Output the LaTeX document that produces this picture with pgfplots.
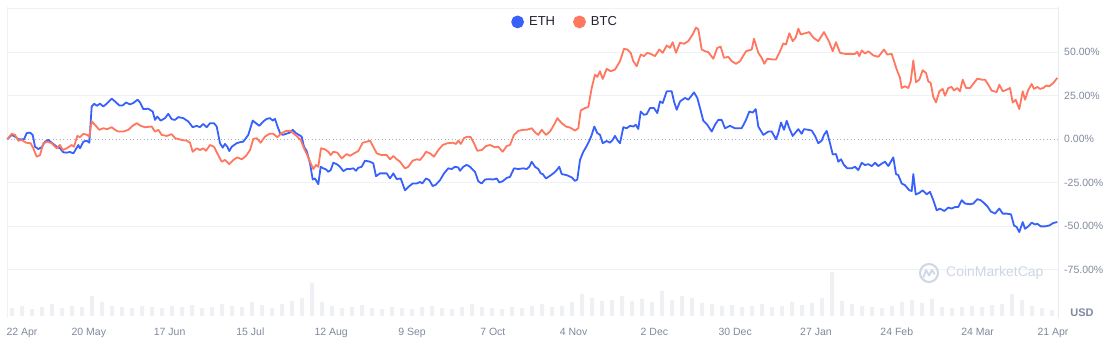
\documentclass[border=0pt]{standalone}
\usepackage{pgfplots}
\pgfplotsset{compat=1.18}
\usepackage{fontspec}
\setmainfont{Liberation Sans}
\definecolor{ethblue}{HTML}{3861FB}
\definecolor{btcred}{HTML}{FF775F}
\definecolor{gridc}{HTML}{EFF2F5}
\definecolor{zeroc}{HTML}{A6B0C3}
\definecolor{tickc}{HTML}{808A9D}
\definecolor{volc}{HTML}{EEF0F4}
\definecolor{wmark}{HTML}{CFD6E4}
\definecolor{legc}{HTML}{222531}
\begin{document}
\begin{tikzpicture}[x=1pt,y=1pt]
\fill[white] (0,0) rectangle (1108,351);
\path[use as bounding box] (0,0) rectangle (1108,351);
% volume bars
\begin{axis}[at={(7pt,33pt)}, anchor=south west, scale only axis,
  width=1051pt, height=311pt, xmin=7, xmax=1058, ymin=-2, ymax=309, hide axis]
\addplot[ybar, bar width=4pt, fill=volc, draw=none] coordinates {
(12,8) (22,10) (32,7) (42,9) (52,12) (62,8) (72,10) (82,9) (92,20) (102,14)
(112,10) (122,9) (132,8) (142,10) (152,9) (162,8) (172,10) (182,9) (192,11) (202,8)
(212,9) (222,12) (232,10) (242,9) (252,14) (262,11) (272,8) (282,12) (292,15) (302,18)
(312,33) (322,14) (332,10) (342,8) (352,9) (362,11) (372,8) (382,7) (392,9) (402,8)
(412,7) (422,9) (432,10) (442,8) (452,7) (462,9) (472,12) (482,9) (492,8) (502,7)
(512,9) (522,8) (532,10) (542,12) (552,9) (562,10) (572,14) (582,22) (592,18) (602,15)
(612,16) (622,20) (632,15) (642,17) (652,14) (662,25) (672,16) (682,20) (692,18) (702,13)
(712,12) (722,10) (732,11) (742,9) (752,10) (762,12) (772,9) (782,10) (792,14) (802,11)
(812,13) (822,18) (832,44) (842,15) (852,12) (862,10) (872,9) (882,8) (892,10) (902,14)
(912,16) (922,13) (932,17) (942,9) (952,8) (962,9) (972,10) (982,9) (992,11) (1002,12)
(1012,22) (1022,16) (1032,10) (1042,8) (1052,6)};
\end{axis}
% main axis
\begin{axis}[at={(7pt,33pt)}, anchor=south west, scale only axis,
  width=1051pt, height=311pt, xmin=7, xmax=1058, ymin=-102.6, ymax=75.9,
  axis line style={draw=none}, tick style={draw=none},
  ytick={-75,-50,-25,25,50,75},
  yticklabels={-75.00\%,-50.00\%,-25.00\%,25.00\%,50.00\%,},
  ymajorgrids, major grid style={draw=gridc, line width=1pt},
  extra y ticks={0}, extra y tick labels={0.00\%},
  extra y tick style={grid=major, major grid style={draw=zeroc, line width=1pt, dash pattern=on 1pt off 2.5pt}},
  yticklabel pos=right,
  y tick label style={anchor=west, inner sep=0pt, xshift=6pt, font=\fontsize{10.5}{12}\selectfont, text=tickc},
  xtick={22,88.8,169.6,250.4,331.2,412,492.8,573.6,654.4,735.2,816,896.8,977.6,1053},
  xticklabels={22 Apr,20 May,17 Jun,15 Jul,12 Aug,9 Sep,7 Oct,4 Nov,2 Dec,30 Dec,27 Jan,24 Feb,24 Mar,21 Apr},
  x tick label style={anchor=north, inner sep=0pt, yshift=-10pt, font=\fontsize{10.5}{12}\selectfont, text=tickc},
  legend style={at={(rel axis cs:0.531,0.952)}, anchor=center, draw=none, fill=none,
    legend columns=2, font=\fontsize{13}{15}\selectfont, text=legc,
    /tikz/every even column/.append style={column sep=16pt}},
  legend image code/.code={\fill (5.5pt,0pt) circle (5.5pt); \path[draw=none,fill=none] (0pt,0pt) -- (15pt,0pt);},
  clip=false]
\draw[gridc, line width=1pt] (rel axis cs:0,0) -- (rel axis cs:0,1);
\draw[gridc!80!gray!60, line width=1pt] (rel axis cs:1,0) -- (rel axis cs:1,1);
\addplot[color=ethblue, line width=1.8pt, line join=round] coordinates {
(7.3,0) (11.7,2.5) (15,1.5) (18.3,0) (21.7,0) (24,0) (26.7,3.5) (30,3.8) (32.7,2.5) (35,-4.3) (38.3,-5.6) (41.7,-4.6) (45,-1.4) (48.3,-0.4) (51.7,-2) (56.7,-4.3) (60,-5.2) (63.3,-7.5) (66.7,-7.7) (70,-7.3) (73.3,-8.1) (75,-6.6) (78.3,-3.3) (80,-5.2) (83.3,-1.4) (86.7,-0.8) (89.3,-2) (91.7,18.8) (94.3,20.4) (96.7,19.2) (100,20.4) (103.3,18.8) (106.7,20.4) (111.7,23.3) (115,21.7) (119.3,19.4) (122.7,19.4) (126,21.1) (130,20) (133.3,20.8) (137.7,22.7) (140,21.1) (143.3,17.3) (148.3,17.5) (152.7,15.9) (155,11.1) (157.3,13) (160.7,10.7) (165,12.1) (168.3,14.6) (171.7,11.5) (175,11.1) (178.3,12.7) (183.3,12.1) (188.3,10.2) (192.7,6.9) (196.7,7.7) (200,6.9) (203.3,8.8) (206.7,6.9) (210,9.2) (214,9.2) (216.7,7.3) (220,-2.3) (222.7,-4.8) (225,-2.7) (227.3,-4.3) (229.3,-6.8) (231.7,-4.3) (236.7,-2.3) (240,-1.7) (243.3,-1.4) (248.3,2.5) (252.7,10.7) (256,9.2) (259.3,7.7) (263.3,10.2) (266.7,11.7) (270,12.1) (272.7,10.7) (275,11.7) (277.3,7.7) (280,3.5) (282.7,2.5) (286,3.1) (290,3.8) (292.7,5.4) (296,3.5) (300,2.1) (301.7,1.5) (304,-4.3) (306.7,-6.8) (310,-13.8) (312.7,-23.1) (315,-22.5) (318.3,-25.8) (320.7,-15.8) (323.3,-16.7) (326,-17.3) (328.3,-18.7) (330.7,-17.7) (333.3,-13.5) (336.7,-14.3) (340,-15.8) (343.3,-18.3) (346.7,-17.1) (350,-17.1) (353.3,-16.7) (356,-18.1) (358.3,-16.4) (361.7,-15.8) (365,-12.3) (370,-12.9) (373.3,-13.8) (376,-21.2) (380,-19.6) (386.7,-19.6) (390,-22.5) (393.3,-19.6) (396.7,-22.9) (400.7,-22.5) (405,-29.3) (408.3,-27.4) (412.7,-25.4) (416.7,-25.4) (420,-24.5) (422.3,-25.4) (426,-22.5) (429.3,-23.5) (432.7,-26.9) (436,-26) (440,-23.5) (444,-19.6) (448.3,-16.7) (451.7,-17.1) (455,-15.8) (458.3,-16.2) (460,-18.1) (463.3,-15.8) (466.7,-14.7) (470,-15.8) (475,-18.7) (478.3,-24.1) (481.7,-25.4) (485,-23.1) (489.3,-22.9) (493.3,-23.1) (496.7,-22.5) (499.3,-24.8) (502.7,-24.1) (506.7,-22.2) (510,-21.6) (514,-16.7) (518.3,-17.1) (523.3,-16.7) (526.7,-17.1) (529.3,-15.8) (531.7,-12.9) (535,-15.8) (538.3,-17.1) (540.7,-19.6) (542.7,-20) (546,-22.5) (550,-21) (554,-19.3) (556.7,-17.7) (559.3,-15.8) (561.7,-20) (566.7,-20.6) (571.7,-21.9) (575,-23.9) (577.3,-23.1) (580,-11.9) (583.3,-7.2) (586.7,-3.9) (590,0) (591.7,2.5) (594.3,7.3) (597.3,3.5) (600,2.5) (602.7,-2.3) (606.7,-1) (610,-2) (612.7,-0.4) (615,1.9) (617.3,-0.4) (620,-2.3) (623.3,6.9) (626.7,6.3) (630,7.7) (633.3,7.3) (635.7,8.3) (638.3,5.9) (640.7,15.9) (644,14) (646.7,14.4) (650,17.9) (654,17.9) (657.3,15) (660,21.7) (662.7,20.8) (666.7,27.5) (671.7,27.5) (674,21.7) (676.7,16.9) (680,21.7) (685,23.7) (688.3,22.7) (691,24.6) (694,26.9) (697.3,23.7) (700,17.9) (703.3,10.6) (707.3,8.3) (711.7,4.4) (715,8.3) (718.3,11.1) (721.7,11.1) (725,6.3) (730,7.7) (735,6.3) (741.7,6.3) (746,11.1) (749.3,15.9) (752.7,15.3) (755.7,17.3) (758.3,7.3) (763.3,2.5) (768.3,4.4) (771.7,4.4) (776,0) (778.3,3.5) (781,9.6) (784,5.4) (786.7,10.6) (789.3,6.3) (792.7,1.9) (795,3.5) (798.3,5.8) (801.7,3.1) (804,5.8) (808.3,5.4) (811.7,5) (815,1.9) (818.3,-2.3) (821.7,-0.8) (824,2.5) (826.7,4.8) (830,-2.3) (832.7,-8.7) (836,-8.5) (838.3,-12.9) (841,-11.5) (844,-14.8) (847.3,-16.7) (851.7,-16.7) (855,-15.8) (858.3,-17.7) (861.7,-13.5) (865,-14.8) (868.3,-14.3) (871.7,-15.4) (875,-13.5) (878.3,-15.4) (881.7,-14) (885,-12.9) (888.3,-15.4) (893.3,-10.4) (896,-20) (898.3,-20.6) (901.7,-25.4) (905,-26.4) (909.3,-29.3) (911.7,-29.7) (913.3,-20) (915.7,-31.7) (919.3,-30.8) (922.7,-29.3) (926.7,-31.6) (930,-30.2) (933.3,-35) (936.7,-40.8) (940,-39.8) (944.3,-41.2) (948.3,-39.2) (951.7,-39.8) (955,-38.9) (958.3,-38.9) (961.7,-35) (965,-36.9) (970,-37.3) (973.3,-36.9) (977.3,-34.4) (980.7,-35) (984,-36.6) (987.3,-38.5) (990.7,-41.4) (995,-42.7) (999.3,-39.8) (1002.7,-42.7) (1006.7,-42.7) (1011,-43.1) (1014,-49.5) (1016.7,-50.4) (1019.3,-53.3) (1022.7,-47.5) (1025,-51.4) (1028.3,-50) (1031.7,-47.9) (1035,-48.9) (1037.3,-48.5) (1040.7,-50) (1045,-50) (1049.3,-49.5) (1053.3,-48.1) (1057.3,-47.5)};
\addlegendentry{ETH}
\addplot[color=btcred, line width=1.8pt, line join=round] coordinates {
(7.3,0) (11.7,3.1) (15,2.5) (18.3,-0.8) (21.7,-0.4) (26,-2) (30.7,-2.3) (33.3,-5.2) (36.7,-10) (40,-9.1) (43.3,-2.3) (47.3,-1.4) (51.7,-2.3) (56.7,-5.2) (60,-3.3) (62.7,-6.2) (66.7,-5.2) (71.7,-3.3) (74,-4.3) (77.3,1.9) (80,1.2) (83.3,3.1) (87.3,2.5) (89.3,1.5) (91.7,10.2) (95,8.3) (99.3,5.4) (103.3,6.3) (107.3,5.8) (111.7,6.9) (115,5.4) (118.3,4.4) (123.3,4.4) (128.3,5.4) (132.7,7.7) (136.7,9.2) (140.7,7.7) (145,6.9) (151.7,7.3) (155,4.4) (158.3,5.4) (161.7,2.5) (166.7,1.9) (171.7,2.9) (175,0.6) (181.7,-0.4) (186.7,-0.8) (190,-2) (192.7,-7.2) (196.7,-5.2) (200,-6.2) (203.3,-5.2) (206,-6.6) (210,-3.3) (214,-4.3) (217.3,-8.1) (221.7,-12.9) (225,-11.9) (229.3,-14.3) (233.3,-11.9) (237.3,-10.4) (241.7,-11.5) (246,-9.6) (250,-6.2) (253.3,0.2) (256.7,0.6) (260.7,-2) (265,1.5) (269.3,3.1) (273.3,3.1) (277.3,1.2) (281.7,3.5) (286,4.8) (290,4.8) (293.3,3.5) (297.3,1.5) (300.7,-0.4) (304,-5.2) (307.3,-9.1) (310,-12.9) (313.3,-17.1) (316,-14.8) (318.3,-15.8) (321,-5.2) (325,-5.8) (328.3,-7.2) (330.7,-9.1) (333.3,-7.2) (337.3,-7.7) (341.7,-11) (346.7,-8.5) (350,-9.5) (354,-8.1) (358.3,-6.8) (362.7,-2) (366.7,-1.4) (370,-0.8) (373.3,-4.3) (376.7,-8.1) (381.7,-9.1) (386.7,-9.1) (390,-11.5) (393.3,-9.6) (396.7,-11.5) (400,-12.9) (405,-16.7) (408.3,-15.8) (412.7,-12.3) (416.7,-11.5) (420,-11.9) (423.3,-9.6) (426,-7.2) (430,-8.1) (434,-10) (438.3,-6.2) (442.7,-3.3) (447.3,-2.3) (452.7,-2) (456,-2.7) (458.3,-0.8) (460.7,-2.7) (464,0.6) (467.3,1.5) (470.7,1.2) (474,-2.3) (477.3,-6.6) (481.7,-6.2) (486,-3.9) (490,-3.3) (495,-4.6) (498.3,-4.3) (502.7,-7.2) (506.7,-3.9) (510,-3.3) (514,2.5) (518.3,4.8) (523.3,5.4) (526.7,5.4) (531.7,6.3) (535,4) (538.3,2.5) (541.7,5.4) (546,2.5) (550,4.4) (554,8.3) (557.3,12.1) (561.7,9.2) (566,7.3) (570,6.7) (575,5) (578.3,6.3) (580.7,16.5) (585,17.9) (588.3,18.5) (591.7,29.4) (595,37.1) (597.3,35.8) (600,39) (602.7,34.6) (606.7,40.4) (610.7,39) (615,40) (620,44.8) (624,51.9) (627.3,51.5) (630.7,49.6) (633.3,44.8) (636.7,41.9) (640.7,48.6) (644,47.7) (647.3,49.6) (650.7,49) (655,47.7) (659.3,51.5) (662.7,49.6) (666.7,53.8) (670,52.5) (672.7,55.7) (676,49.6) (680,55.4) (684,54.8) (688.3,56.3) (692.7,60.2) (696,64.1) (698.3,63.1) (701.7,51.5) (705,50.5) (708.3,50) (713.3,46.2) (717.3,52.5) (720.7,53.1) (724,46.7) (728.3,47.3) (731.7,44.8) (736,43.3) (740,44.8) (746,50.5) (751.7,51.5) (754,57.7) (758.3,49.6) (761.7,46.7) (764.3,43.3) (767.3,46.2) (772.7,45.8) (776,45.8) (780,50.5) (783.3,55) (786,54.4) (789.3,60.8) (792.7,56.3) (795.7,58.3) (798.3,63.5) (800.7,60.2) (805,60.8) (809.3,61.5) (813.3,58.3) (818.3,56.3) (824,61.5) (829.3,55.7) (832.7,50.5) (836,55.7) (840,49.6) (845,49) (850,49) (855,49) (857.3,50.2) (859.3,47.7) (861.7,51) (865,49.2) (868.3,50.5) (873.3,48.1) (878.3,47.3) (884,51.5) (887.3,48.6) (891.7,49) (896.7,40) (900,35.2) (901.7,29.4) (905,30.4) (908.3,29.4) (910.7,33.2) (913.3,45.2) (916,32.7) (919.3,34.2) (922.7,39.6) (926,38.1) (928.3,33.2) (930.7,32.3) (933.3,24.2) (936,21.1) (939.3,27.5) (942.7,28.9) (945,25) (948.3,29.4) (951.7,30) (954,28) (957.3,29.4) (960,27.5) (962.7,34.2) (966,29.4) (970,29.4) (974,32.3) (977.3,34.8) (981.7,34.2) (985,34.2) (988.3,31.3) (991.7,27.9) (996.7,27.1) (999.3,31.3) (1002.7,27.5) (1006.7,28.4) (1010,29.4) (1012.7,21.1) (1015.7,22.7) (1019.3,17.3) (1022.7,27.5) (1025,22.7) (1028.3,28.4) (1031.7,31.7) (1034,28.9) (1037.3,30) (1040,28.9) (1043.3,29.4) (1046,30.8) (1049.3,30.4) (1053.3,32.3) (1057.3,35.2)};
\addlegendentry{BTC}
\end{axis}
% watermark
\draw[wmark, line width=2pt] (929,78) circle (9);
\draw[wmark, line width=1.8pt, line join=round, line cap=round] (923.5,74) -- (926,81) -- (929,75.5) -- (932,81) -- (934.5,77);
\node[anchor=west, inner sep=0pt, text=wmark, font=\fontsize{14}{16}\selectfont] at (946,78) {CoinMarketCap};
\node[inner sep=0pt, text=tickc, font=\bfseries\fontsize{11}{13}\selectfont] at (1082,38) {USD};
\end{tikzpicture}
\end{document}
